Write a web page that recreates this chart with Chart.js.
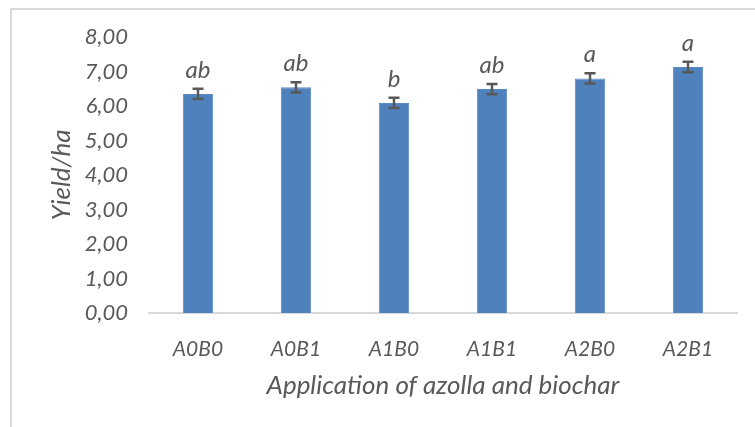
<!DOCTYPE html>
<html>
<head>
<meta charset="utf-8">
<script src="https://cdn.jsdelivr.net/npm/chart.js@4"></script>
<style>
  html, body { margin: 0; padding: 0; background: #fff; }
  #wrap { width: 755px; height: 427px; position: relative; }
</style>
</head>
<body>
<div id="wrap"><canvas id="yieldChart"></canvas></div>
<script>
const categories = ["A0B0", "A0B1", "A1B0", "A1B1", "A2B0", "A2B1"];
const yieldValues = [6.35, 6.54, 6.09, 6.49, 6.80, 7.13];
const yieldErrors = [0.15, 0.15, 0.15, 0.15, 0.15, 0.15];
const groupLetters = ["ab", "ab", "b", "ab", "a", "a"];

const textColor = "#595959";
const fontFamily = "Lato, 'Open Sans', sans-serif";

// light frame around the chart (top and left edges show)
const framePlugin = {
  id: "frame",
  beforeDraw(chart) {
    const ctx = chart.ctx;
    ctx.save();
    ctx.strokeStyle = "#d9d9d9";
    ctx.lineWidth = 2;
    ctx.strokeRect(11, 9, 900, 600);
    ctx.restore();
  }
};

// error bars and significance letters
const errorPlugin = {
  id: "errorBars",
  afterDatasetsDraw(chart) {
    const ctx = chart.ctx;
    const x = chart.scales.x;
    const y = chart.scales.y;
    ctx.save();
    ctx.strokeStyle = "#595959";
    ctx.lineWidth = 2.5;
    yieldValues.forEach((v, i) => {
      const cx = x.getPixelForValue(i);
      const top = y.getPixelForValue(v + yieldErrors[i]);
      const bot = y.getPixelForValue(v - yieldErrors[i]);
      ctx.beginPath();
      ctx.moveTo(cx, top); ctx.lineTo(cx, bot);
      ctx.moveTo(cx - 5.5, top); ctx.lineTo(cx + 5.5, top);
      ctx.moveTo(cx - 5.5, bot); ctx.lineTo(cx + 5.5, bot);
      ctx.stroke();
      ctx.fillStyle = textColor;
      ctx.font = "italic 24px " + fontFamily;
      ctx.textAlign = "center";
      ctx.textBaseline = "alphabetic";
      ctx.fillText(groupLetters[i], cx, top - 11);
    });
    ctx.restore();
  }
};

new Chart(document.getElementById("yieldChart"), {
  type: "bar",
  data: {
    labels: categories,
    datasets: [{
      data: yieldValues,
      backgroundColor: "#4f81bd",
      borderColor: "#5a8ac4",
      borderWidth: 1,
      barPercentage: 0.31,
      categoryPercentage: 1
    }]
  },
  options: {
    responsive: true,
    maintainAspectRatio: false,
    animation: false,
    layout: { padding: { top: 37, right: 18, bottom: 26, left: 46 } },
    plugins: {
      legend: { display: false },
      tooltip: { enabled: false }
    },
    scales: {
      x: {
        grid: { display: false },
        border: { display: true, color: "#d9d9d9", width: 2 },
        ticks: {
          color: textColor,
          padding: 16,
          font: { family: fontFamily, size: 21, style: "italic" }
        },
        title: {
          display: true,
          text: "Application of azolla and biochar",
          color: textColor,
          padding: 0,
          font: { family: fontFamily, size: 26, style: "italic" }
        },
        afterFit(scale) { scale.height = 88; }
      },
      y: {
        min: 0,
        max: 8,
        grid: { display: false, drawTicks: false },
        border: { display: false },
        ticks: {
          stepSize: 1,
          color: textColor,
          padding: 21,
          font: { family: fontFamily, size: 22, style: "italic" },
          callback: v => v.toFixed(2).replace(".", ",")
        },
        title: {
          display: true,
          text: "Yield/ha",
          color: textColor,
          padding: 0,
          font: { family: fontFamily, size: 26, style: "italic" }
        },
        afterFit(scale) { scale.width = 103; }
      }
    }
  },
  plugins: [framePlugin, errorPlugin]
});
</script>
</body>
</html>
